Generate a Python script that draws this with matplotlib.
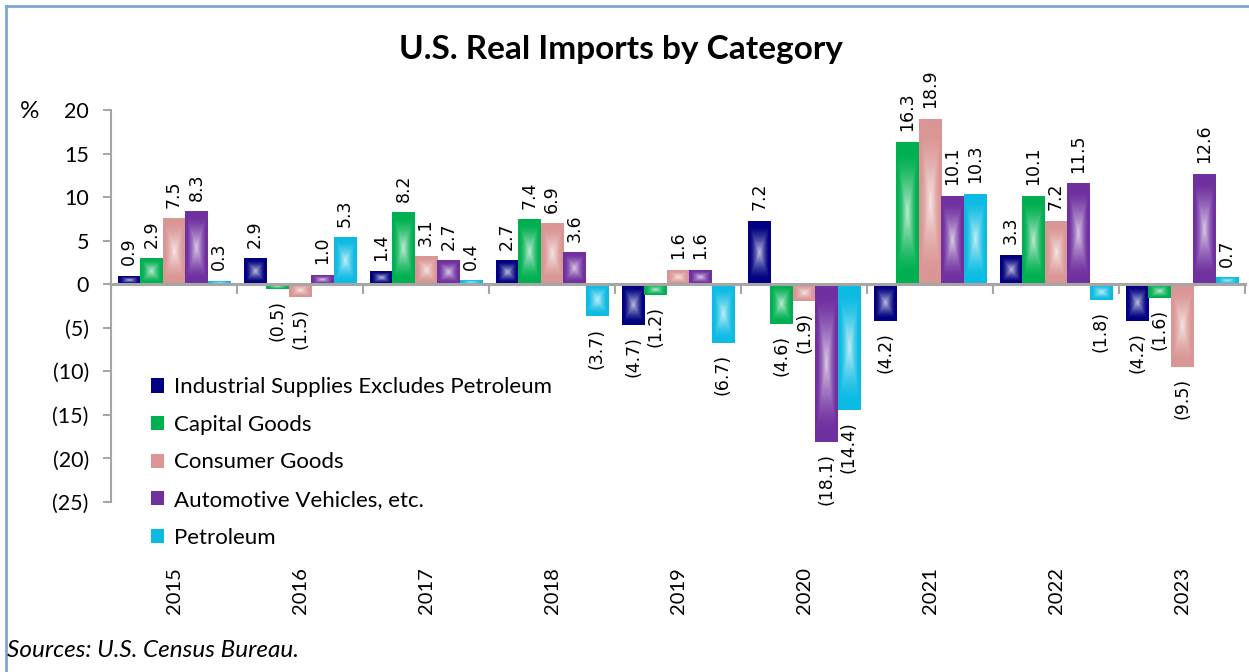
import numpy as np
import matplotlib
matplotlib.use('Agg')
import matplotlib.pyplot as plt
from matplotlib.colors import to_rgb
from matplotlib.lines import Line2D
from matplotlib.patches import Patch
from matplotlib.transforms import blended_transform_factory


years = ['2015', '2016', '2017', '2018', '2019', '2020', '2021', '2022', '2023']
industrial = [0.9, 2.9, 1.4, 2.7, -4.7, 7.2, -4.2, 3.3, -4.2]
capital = [2.9, -0.5, 8.2, 7.4, -1.2, -4.6, 16.3, 10.1, -1.6]
consumer = [7.5, -1.5, 3.1, 6.9, 1.6, -1.9, 18.9, 7.2, -9.5]
automotive = [8.3, 1.0, 2.7, 3.6, 1.6, -18.1, 10.1, 11.5, 12.6]
petroleum = [0.3, 5.3, 0.4, -3.7, -6.7, -14.4, 10.3, -1.8, 0.7]

series_names = ['Industrial Supplies Excludes Petroleum', 'Capital Goods', 'Consumer Goods',
                'Automotive Vehicles, etc.', 'Petroleum']
series_values = [industrial, capital, consumer, automotive, petroleum]
series_colors = ['#000080', '#00b050', '#d99694', '#7030a0', '#0cbbe3']

y_ticks = [20, 15, 10, 5, 0, -5, -10, -15, -20, -25]

FONT = 'Lato'
GRID_GRAY = '#a6a6a6'


def fmt(v):
    return f'({abs(v):.1f})' if v < 0 else f'{v:.1f}'


def shade_bar(ax, patch, color):
    # rectangular "from centre" gradient like the Excel fill
    x0, y0 = patch.get_x(), patch.get_y()
    w, h = patch.get_width(), patch.get_height()
    u = np.linspace(-1, 1, 61)
    uu, vv = np.meshgrid(u, u)
    t = np.maximum(np.abs(uu), np.abs(vv))
    light = np.clip((0.85 - t) / 0.85, 0, 1) ** 1.4 * 0.75
    base = np.array(to_rgb(color))
    img = base + (1 - base) * light[..., None]
    ax.imshow(img, extent=(x0, x0 + w, y0, y0 + h), aspect='auto',
              interpolation='bilinear', zorder=2)


fig = plt.figure(figsize=(12.49, 6.72), dpi=100)
ax = fig.add_axes([0.0889, 0.253, 0.9079, 0.5833])

x = np.arange(len(years))
bar_w = 0.178
for j, (vals, color) in enumerate(zip(series_values, series_colors)):
    pos = x + (j - 2) * bar_w
    bars = ax.bar(pos, vals, width=bar_w, color=color, zorder=1)
    for p, v in zip(bars.patches, vals):
        shade_bar(ax, p, color)
        ax.annotate(fmt(v), (p.get_x() + bar_w / 2, v), xytext=(0, 8 if v >= 0 else -8),
                    textcoords='offset points', rotation=90, ha='center',
                    va='bottom' if v >= 0 else 'top', fontsize=12.5,
                    family='DejaVu Sans', color='black', zorder=4)

ax.set_xlim(-0.5, len(years) - 0.5)
ax.set_ylim(-25, 20)

# axes styling
for s in ['top', 'right']:
    ax.spines[s].set_visible(False)
ax.spines['left'].set_color(GRID_GRAY)
ax.spines['left'].set_linewidth(1.5)
ax.spines['bottom'].set_position(('data', 0))
ax.spines['bottom'].set_color(GRID_GRAY)
ax.spines['bottom'].set_linewidth(2.2)
ax.spines['bottom'].set_zorder(3)

ax.set_yticks(y_ticks)
ax.set_yticklabels([f'({abs(t)})' if t < 0 else str(t) for t in y_ticks],
                   fontsize=15.5, family=FONT)
ax.tick_params(axis='y', length=6, width=1.5, color=GRID_GRAY, pad=10)

ax.set_xticks(np.arange(-0.5, len(years), 1.0))
ax.set_xticklabels([])
ax.tick_params(axis='x', length=7, width=1.5, color=GRID_GRAY, direction='out')

trans = blended_transform_factory(ax.transData, ax.transAxes)
for i, yr in enumerate(years):
    ax.text(i, -0.225, yr, transform=trans, rotation=90, ha='center', va='center',
            fontsize=14.5, family=FONT)

ax.text(-0.0714, 0.995, '%', transform=ax.transAxes, ha='center', va='center',
        fontsize=17.5, family=FONT)

handles = [Patch(facecolor=c, edgecolor='none') for c in series_colors]
fig.legend(handles, series_names, loc='upper left', bbox_to_anchor=(0.112, 0.455),
           frameon=False, prop={'family': FONT, 'size': 16}, handlelength=0.6,
           handleheight=0.6, handletextpad=0.45, labelspacing=0.79, borderpad=0)

fig.text(0.497, 0.926, 'U.S. Real Imports by Category', ha='center', va='center',
         fontsize=24, fontweight='bold', family=FONT)
fig.text(0.006, 0.032, 'Sources: U.S. Census Bureau.', ha='left', va='center',
         fontsize=17.5, style='italic', family=FONT)

# chart border (top and left edges visible)
border = '#7ea6d6'
fig.add_artist(Line2D([6 / 1249, 1.0], [1 - 6 / 672, 1 - 6 / 672], color=border, lw=2,
                      transform=fig.transFigure))
fig.add_artist(Line2D([6 / 1249, 6 / 1249], [0.0, 1 - 6 / 672], color=border, lw=2,
                      transform=fig.transFigure))

fig.savefig('out.png', dpi=100)
